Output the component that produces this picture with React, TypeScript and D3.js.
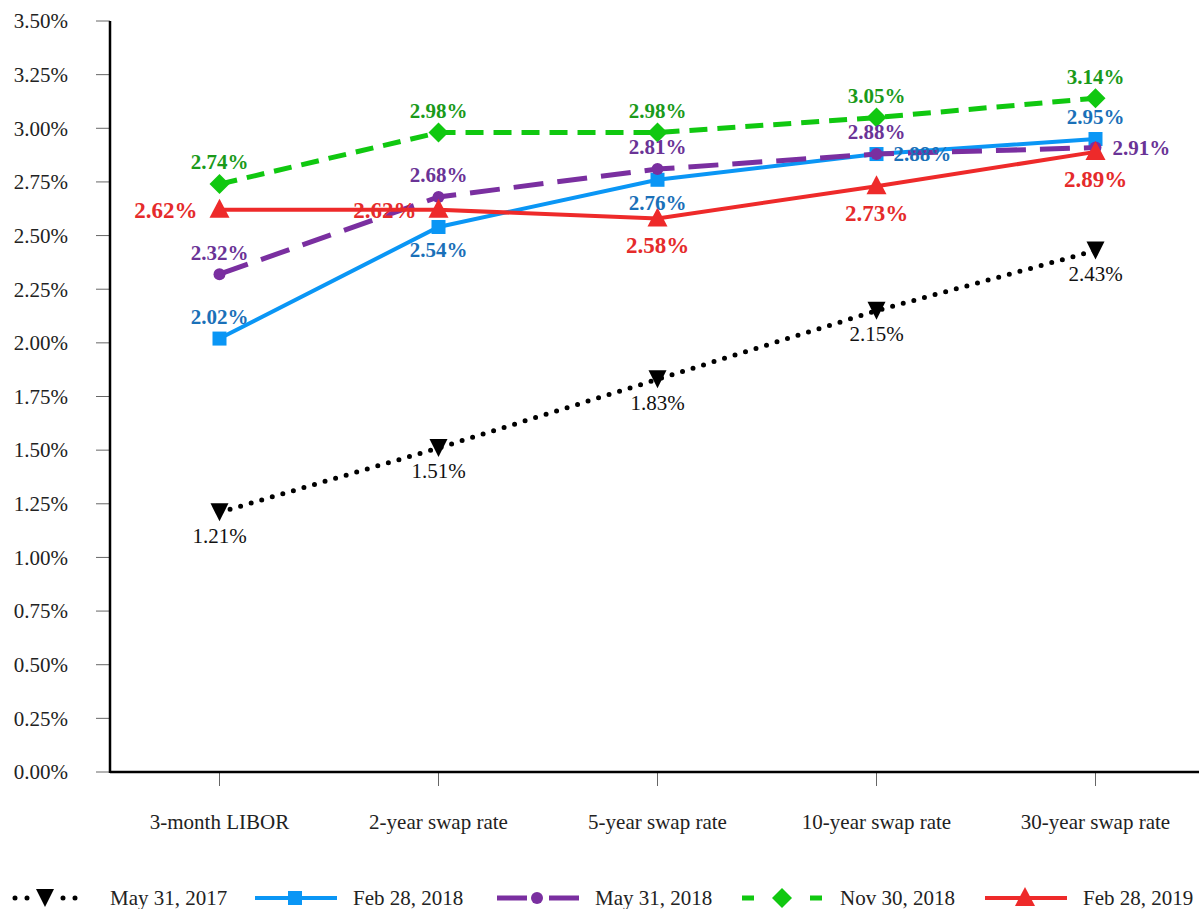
import * as d3 from 'd3';

const categories = ['3-month LIBOR', '2-year swap rate', '5-year swap rate', '10-year swap rate', '30-year swap rate'];
const yTicks = [0, 0.25, 0.5, 0.75, 1, 1.25, 1.5, 1.75, 2, 2.25, 2.5, 2.75, 3, 3.25, 3.5];

const may2017 = [1.21, 1.51, 1.83, 2.15, 2.43];
const feb2018 = [2.02, 2.54, 2.76, 2.88, 2.95];
const may2018 = [2.32, 2.68, 2.81, 2.88, 2.91];
const nov2018 = [2.74, 2.98, 2.98, 3.05, 3.14];
const feb2019 = [2.62, 2.62, 2.58, 2.73, 2.89];

type Pos = 'above' | 'below' | 'left' | 'right';

type Series = {
  name: string;
  values: number[];
  color: string;
  labelColor: string;
  dash: string;
  width: number;
  cap: 'round' | 'butt';
  marker: 'down' | 'square' | 'circle' | 'diamond' | 'up';
  labelPos: Pos[];
  fontSize: number;
  bold: boolean;
};

const series: Series[] = [
  { name: 'May 31, 2017', values: may2017, color: '#000', labelColor: '#111', dash: '0 11', width: 5, cap: 'round', marker: 'down', labelPos: ['below', 'below', 'below', 'below', 'below'], fontSize: 21, bold: false },
  { name: 'Feb 28, 2018', values: feb2018, color: '#0a96f5', labelColor: '#1a70b8', dash: '', width: 4, cap: 'butt', marker: 'square', labelPos: ['above', 'below', 'below', 'right', 'above'], fontSize: 21, bold: true },
  { name: 'May 31, 2018', values: may2018, color: '#7a2fa0', labelColor: '#6a3396', dash: '30 14', width: 5, cap: 'butt', marker: 'circle', labelPos: ['above', 'above', 'above', 'above', 'right'], fontSize: 21, bold: true },
  { name: 'Nov 30, 2018', values: nov2018, color: '#10c810', labelColor: '#1a9a1a', dash: '18 10', width: 5, cap: 'butt', marker: 'diamond', labelPos: ['above', 'above', 'above', 'above', 'above'], fontSize: 21, bold: true },
  { name: 'Feb 28, 2019', values: feb2019, color: '#ee2a2a', labelColor: '#e52b2b', dash: '', width: 4, cap: 'butt', marker: 'up', labelPos: ['left', 'left', 'below', 'below', 'below'], fontSize: 23, bold: true },
];

const W = 1199;
const H = 909;
const LEFT = 110;
const TOP = 21;
const BOTTOM = 772;

function Marker({ type, x, y, color }: { type: Series['marker']; x: number; y: number; color: string }) {
  if (type === 'square') return <rect x={x - 7} y={y - 7} width={14} height={14} fill={color} />;
  if (type === 'circle') return <circle cx={x} cy={y} r={6} fill={color} />;
  if (type === 'diamond') return <path d={`M${x},${y - 10}L${x + 10},${y}L${x},${y + 10}L${x - 10},${y}Z`} fill={color} />;
  if (type === 'up') return <path d={`M${x},${y - 11}L${x + 10},${y + 8}L${x - 10},${y + 8}Z`} fill={color} />;
  return <path d={`M${x - 9},${y - 9}L${x + 9},${y - 9}L${x},${y + 9}Z`} fill={color} />;
}

export default function App() {
  const x = d3.scaleBand<string>().domain(categories).range([LEFT, LEFT + 5 * 219]);
  const y = d3.scaleLinear().domain([0, 3.5]).range([BOTTOM, TOP]);
  const cx = (c: string) => (x(c) ?? 0) + x.bandwidth() / 2;
  const line = d3.line<number>().x((_, i) => cx(categories[i])).y((d) => y(d));

  const legendX = [15, 255, 497, 742, 985];

  return (
    <svg width={W} height={H} style={{ position: 'absolute', left: 0, top: 0 }} fontFamily="'Liberation Serif', 'Times New Roman', serif">
      <rect width={W} height={H} fill="#fff" />
      {yTicks.map((t) => (
        <g key={t}>
          <line x1={96} x2={LEFT} y1={y(t)} y2={y(t)} stroke="#666" strokeWidth={1} />
          <text x={68} y={y(t)} dy="0.35em" textAnchor="end" fontSize={21} fill="#222">
            {t.toFixed(2)}%
          </text>
        </g>
      ))}
      {categories.map((c) => (
        <g key={c}>
          <line x1={cx(c)} x2={cx(c)} y1={BOTTOM} y2={786} stroke="#666" strokeWidth={1} />
          <text x={cx(c)} y={822} dy="0.35em" textAnchor="middle" fontSize={21} fill="#222">
            {c}
          </text>
        </g>
      ))}
      <line x1={LEFT} x2={LEFT} y1={TOP} y2={BOTTOM + 1} stroke="#000" strokeWidth={2.5} />
      <line x1={LEFT} x2={W} y1={BOTTOM} y2={BOTTOM} stroke="#000" strokeWidth={2.5} />

      {series.map((s) => (
        <g key={s.name}>
          <path d={line(s.values) ?? ''} fill="none" stroke={s.color} strokeWidth={s.width} strokeDasharray={s.dash || undefined} strokeLinecap={s.cap} />
          {s.values.map((v, i) => (
            <Marker key={i} type={s.marker} x={cx(categories[i])} y={y(v)} color={s.color} />
          ))}
        </g>
      ))}

      {series.map((s) => (
        <g key={s.name + '-labels'}>
          {s.values.map((v, i) => {
            const px = cx(categories[i]);
            const py = y(v);
            const pos = s.labelPos[i];
            let lx = px;
            let ly = py;
            let anchor = 'middle';
            if (pos === 'above') ly = py - 22;
            if (pos === 'below') ly = py + (s.fontSize > 21 ? 27 : 23);
            if (pos === 'left') { lx = px - 22; anchor = 'end'; }
            if (pos === 'right') { lx = px + 17; anchor = 'start'; }
            return (
              <text key={i} x={lx} y={ly} dy="0.35em" textAnchor={anchor} fontSize={s.fontSize} fontWeight={s.bold ? 'bold' : 'normal'} fill={s.labelColor}>
                {v.toFixed(2)}%
              </text>
            );
          })}
        </g>
      ))}

      {series.map((s, i) => {
        const lx = legendX[i];
        const ly = 898;
        const mid = lx + (i === 0 ? 30 : 40);
        return (
          <g key={s.name + '-legend'}>
            <line x1={lx} x2={lx + (i === 0 ? 61 : 82)} y1={ly} y2={ly} stroke={s.color} strokeWidth={s.width} strokeDasharray={i === 0 ? '0 12' : i === 2 ? '30 22' : i === 3 ? '12 22' : undefined} strokeLinecap={s.cap} />
            {i === 0 && <rect x={mid - 9} y={ly - 6} width={18} height={12} fill="#fff" />}
            <Marker type={s.marker} x={mid} y={ly} color={s.color} />
            <text x={lx + (i === 0 ? 95 : 98)} y={ly} dy="0.35em" fontSize={21} fill="#222">
              {s.name}
            </text>
          </g>
        );
      })}
    </svg>
  );
}
